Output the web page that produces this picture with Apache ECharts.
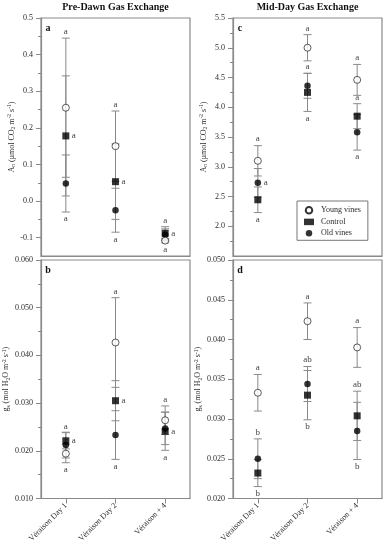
<!DOCTYPE html>
<html><head><meta charset="utf-8">
<script src="https://cdn.jsdelivr.net/npm/echarts@6/dist/echarts.min.js"></script>
<style>html,body{margin:0;padding:0;background:#fff}#c{width:384px;height:550px}</style>
</head><body><div id="c"></div>
<script>
// ---------- data ----------
const categories = ['Véraison Day 1', 'Véraison Day 2', 'Véraison + 4'];
const seriesNames = ['Young vines', 'Control', 'Old vines'];
const columnTitles = ['Pre-Dawn Gas Exchange', 'Mid-Day Gas Exchange'];
const panelTags = ['a', 'c', 'b', 'd'];

// panel a: An pre-dawn
const aYoung = [0.255, 0.150, -0.108];
const aYoungSE = [0.190, 0.096, 0.006];
const aControl = [0.178, 0.053, -0.088];
const aControlSE = [0.164, 0.103, 0.018];
const aOld = [0.048, -0.025, -0.092];
const aOldSE = [0.078, 0.060, 0.016];
const aTicks = [-0.1, 0.0, 0.1, 0.2, 0.3, 0.4, 0.5];
const aRange = [-0.15, 0.5];
const aLetters = [[0,'young','above','a'],[0,'control','right','a'],[0,'old','below','a'],
                  [1,'young','above','a'],[1,'control','right','a'],[1,'old','below','a'],
                  [2,'control','above','a'],[2,'control','right','a'],[2,'young','below','a']];

// panel c: An mid-day
const cYoung = [3.10, 5.00, 4.46];
const cYoungSE = [0.255, 0.22, 0.26];
const cControl = [2.445, 4.25, 3.85];
const cControlSE = [0.215, 0.32, 0.21];
const cOld = [2.73, 4.36, 3.58];
const cOldSE = [0.24, 0.21, 0.30];
const cTicks = [2.0, 2.5, 3.0, 3.5, 4.0, 4.5, 5.0, 5.5];
const cRange = [1.5, 5.5];
const cLetters = [[0,'young','above','a'],[0,'old','right','a'],[0,'control','below','a'],
                  [1,'young','above','a'],[1,'old','above','a'],[1,'control','below','a'],
                  [2,'young','above','a'],[2,'control','above','a'],[2,'old','below','a']];

// panel b: gs pre-dawn
const bYoung = [0.0194, 0.0427, 0.0264];
const bYoungSE = [0.0019, 0.0094, 0.0030];
const bControl = [0.0221, 0.0305, 0.0241];
const bControlSE = [0.0017, 0.0042, 0.0040];
const bOld = [0.0212, 0.0233, 0.0247];
const bOldSE = [0.0027, 0.0051, 0.0034];
const bTicks = [0.010, 0.020, 0.030, 0.040, 0.050, 0.060];
const bRange = [0.010, 0.060];
const bLetters = [[0,'control','above','a'],[0,'control','right','a'],[0,'young','below','a'],
                  [1,'young','above','a'],[1,'control','right','a'],[1,'old','below','a'],
                  [2,'young','above','a'],[2,'control','right','a'],[2,'control','below','a']];

// panel d: gs mid-day
const dYoung = [0.0333, 0.0423, 0.0390];
const dYoungSE = [0.0023, 0.0023, 0.0025];
const dControl = [0.0232, 0.0330, 0.0304];
const dControlSE = [0.0017, 0.0031, 0.0031];
const dOld = [0.0250, 0.0344, 0.0285];
const dOldSE = [0.0025, 0.0022, 0.0036];
const dTicks = [0.020, 0.025, 0.030, 0.035, 0.040, 0.045, 0.050];
const dRange = [0.020, 0.050];
const dLetters = [[0,'young','above','a'],[0,'old','above','b'],[0,'control','below','b'],
                  [1,'young','above','a'],[1,'old','above','ab'],[1,'control','below','b'],
                  [2,'young','above','a'],[2,'control','above','ab'],[2,'old','below','b']];

// ---------- build ----------
const FONT = '"Liberation Serif", "DejaVu Serif", serif';
const GRAY = '#8a8a8a';
const TXT = '#2a2a2a';

const anName = 'A{sub|n} (μmol CO{sub|2} m{sup|-2} s{sup|-1})';
const gsName = 'g{sub|s} (mol H{sub|2}O m{sup|-2} s{sup|-1})';

const panels = [
  {groups:{young:{v:aYoung,se:aYoungSE},control:{v:aControl,se:aControlSE},old:{v:aOld,se:aOldSE}},
   ticks:aTicks, range:aRange, letters:aLetters, dec:1, name:anName, gap:24,
   grid:{left:41, top:18, width:149, height:238}, bottom:false},
  {groups:{young:{v:cYoung,se:cYoungSE},control:{v:cControl,se:cControlSE},old:{v:cOld,se:cOldSE}},
   ticks:cTicks, range:cRange, letters:cLetters, dec:1, name:anName, gap:24,
   grid:{left:233, top:18, width:149, height:238}, bottom:false},
  {groups:{young:{v:bYoung,se:bYoungSE},control:{v:bControl,se:bControlSE},old:{v:bOld,se:bOldSE}},
   ticks:bTicks, range:bRange, letters:bLetters, dec:3, name:gsName, gap:29,
   grid:{left:41, top:260, width:149, height:238.5}, bottom:true},
  {groups:{young:{v:dYoung,se:dYoungSE},control:{v:dControl,se:dControlSE},old:{v:dOld,se:dOldSE}},
   ticks:dTicks, range:dRange, letters:dLetters, dec:3, name:gsName, gap:29,
   grid:{left:233, top:260, width:149, height:238.5}, bottom:true}
];

function minorTicks(ticks, range) {
  const out = [];
  const step = ticks[1] - ticks[0];
  const first = ticks[0] - step / 2;
  if (first > range[0] + 1e-9) out.push(first);
  for (let i = 1; i < ticks.length; i++) out.push((ticks[i - 1] + ticks[i]) / 2);
  const last = ticks[ticks.length - 1] + step / 2;
  if (last < range[1] - 1e-9) out.push(last);
  return out;
}

function errRender(vals, ses) {
  return function (params, api) {
    const i = params.dataIndex;
    const top = api.coord([i, vals[i] + ses[i]]);
    const bot = api.coord([i, vals[i] - ses[i]]);
    const w = 4;
    const st = {stroke: GRAY, lineWidth: 1};
    return {type: 'group', children: [
      {type: 'line', shape: {x1: top[0], y1: top[1], x2: bot[0], y2: bot[1]}, style: st},
      {type: 'line', shape: {x1: top[0] - w, y1: top[1], x2: top[0] + w, y2: top[1]}, style: st},
      {type: 'line', shape: {x1: bot[0] - w, y1: bot[1], x2: bot[0] + w, y2: bot[1]}, style: st}
    ]};
  };
}

function letterRender(letters, groups) {
  return function (params, api) {
    const L = letters[params.dataIndex];
    const cat = L[0], g = groups[L[1]], place = L[2], txt = L[3];
    const v = g.v[cat], se = g.se[cat];
    const m = api.coord([cat, v]);
    let x = m[0], y = m[1], align = 'center';
    if (place === 'above') {
      const p = api.coord([cat, v + se]);
      y = Math.min(p[1] - 6.5, m[1] - 8);
    } else if (place === 'below') {
      const p = api.coord([cat, v - se]);
      y = Math.max(p[1] + 7, m[1] + 8);
    } else {
      x = m[0] + 6; align = 'left';
    }
    return {type: 'text', x: x, y: y, z2: 10,
      style: {text: txt, textAlign: align, textVerticalAlign: 'middle', align: align, verticalAlign: 'middle',
              font: '9px ' + FONT, fill: '#444'}};
  };
}

const grids = [], xAxes = [], yAxes = [], series = [], graphics = [];
const styles = {
  young: {name: 'Young vines', symbol: 'circle', size: 7, itemStyle: {color: '#fff', borderColor: '#000', borderWidth: 0.8}},
  control: {name: 'Control', symbol: 'rect', size: 7, itemStyle: {color: '#000'}},
  old: {name: 'Old vines', symbol: 'circle', size: 6.5, itemStyle: {color: '#000'}}
};
const drawOrder = ['old', 'control', 'young'];

panels.forEach((p, k) => {
  grids.push(Object.assign({show: true, borderColor: GRAY, borderWidth: 1.2, backgroundColor: 'transparent'}, p.grid));
  xAxes.push({
    type: 'category', gridIndex: k, data: categories, boundaryGap: true, position: 'bottom',
    axisLine: {show: true, onZero: false, lineStyle: {color: GRAY, width: 1.2}},
    axisTick: {show: p.bottom, alignWithLabel: true, length: 5, lineStyle: {color: GRAY}},
    axisLabel: {show: p.bottom, rotate: 45, margin: 6, fontFamily: FONT, fontSize: 8, color: TXT, interval: 0},
    splitLine: {show: false}
  });
  const yi = yAxes.length;
  yAxes.push({
    type: 'value', gridIndex: k, position: 'left', min: p.range[0], max: p.range[1],
    axisLine: {show: true, onZero: false, lineStyle: {color: GRAY, width: 1.2}},
    axisTick: {show: true, length: 5, lineStyle: {color: GRAY}, customValues: p.ticks},
    axisLabel: {fontFamily: FONT, fontSize: 8, color: TXT, margin: 8, customValues: p.ticks,
                formatter: v => v.toFixed(p.dec)},
    splitLine: {show: false},
    name: p.name, nameLocation: 'middle', nameGap: p.gap,
    nameTextStyle: {fontFamily: FONT, fontSize: 8, color: TXT, lineHeight: 10,
      rich: {sub: {fontFamily: FONT, fontSize: 5.5, color: TXT, verticalAlign: 'bottom', lineHeight: 10},
             sup: {fontFamily: FONT, fontSize: 5.5, color: TXT, verticalAlign: 'top', lineHeight: 10}}}
  });
  yAxes.push({
    type: 'value', gridIndex: k, position: 'left', offset: 0, min: p.range[0], max: p.range[1],
    axisLine: {show: false, onZero: false}, axisLabel: {show: false}, splitLine: {show: false},
    axisTick: {show: true, length: 3, lineStyle: {color: GRAY}, customValues: minorTicks(p.ticks, p.range)}
  });
  drawOrder.forEach(key => {
    const g = p.groups[key];
    series.push({
      type: 'custom', xAxisIndex: k, yAxisIndex: yi, z: 2, silent: true,
      renderItem: errRender(g.v, g.se),
      data: g.v.map((v, i) => [i, v - g.se[i], v + g.se[i]]),
      encode: {x: 0, y: [1, 2]}
    });
  });
  drawOrder.forEach(key => {
    const g = p.groups[key], s = styles[key];
    series.push({
      type: 'scatter', name: s.name, xAxisIndex: k, yAxisIndex: yi, z: 3,
      symbol: s.symbol, symbolSize: s.size, itemStyle: s.itemStyle,
      data: g.v.map((v, i) => [i, v])
    });
  });
  series.push({
    type: 'custom', xAxisIndex: k, yAxisIndex: yi, z: 4, silent: true,
    renderItem: letterRender(p.letters, p.groups),
    data: p.letters.map(L => [L[0], p.groups[L[1]].v[L[0]]])
  });
  graphics.push({type: 'text', x: p.grid.left + 7, y: p.grid.top + 10,
    style: {text: panelTags[k], font: 'bold 10px ' + FONT, fill: '#111', textAlign: 'center', textVerticalAlign: 'middle'}});
});

graphics.push({type: 'text', x: 115.5, y: 7,
  style: {text: columnTitles[0], font: 'bold 10px ' + FONT, fill: '#111', textAlign: 'center', textVerticalAlign: 'middle'}});
graphics.push({type: 'text', x: 307.5, y: 7,
  style: {text: columnTitles[1], font: 'bold 10px ' + FONT, fill: '#111', textAlign: 'center', textVerticalAlign: 'middle'}});

const chart = echarts.init(document.getElementById('c'), null, {renderer: 'canvas'});
chart.setOption({
  animation: false,
  backgroundColor: '#fff',
  grid: grids, xAxis: xAxes, yAxis: yAxes, series: series, graphic: graphics,
  legend: {
    data: seriesNames, orient: 'vertical', left: 297, top: 201, padding: [5, 7, 3, 7],
    itemGap: 3.4, itemWidth: 10, itemHeight: 6.5, selectedMode: false,
    borderColor: '#777', borderWidth: 1, backgroundColor: '#fff',
    textStyle: {fontFamily: FONT, fontSize: 8, color: TXT, lineHeight: 8, padding: [0, 0, 0, 2]}
  }
});
</script></body></html>
